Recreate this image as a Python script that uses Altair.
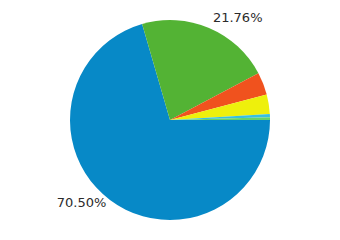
import altair as alt
import pandas as pd
import math

categories = ["A", "B", "C", "D", "E", "F"]
values = [70.50, 21.76, 3.65, 3.15, 0.50, 0.44]
colors = ["#0789c7", "#53b334", "#f0521e", "#eef00c", "#36c0e2", "#64d26a"]
labels = ["70.50%", "21.76%", "", "", "", ""]

df = pd.DataFrame({"cat": categories, "value": values, "label": labels,
                   "order": list(range(len(categories)))})

theta = alt.Theta("value:Q", stack=True,
                  scale=alt.Scale(range=[math.pi / 2, math.pi / 2 + 2 * math.pi]))
order = alt.Order("order:Q")

base = alt.Chart(df)

arcs = base.mark_arc(outerRadius=100).encode(
    theta=theta,
    order=order,
    color=alt.Color("cat:N", scale=alt.Scale(domain=categories, range=colors), legend=None),
)

txt_right = base.mark_text(align="left", baseline="middle", font="DejaVu Sans",
                           fontSize=13, color="#2b2b2b", radius=110, dy=-1).encode(
    theta=theta, order=order,
    text=alt.condition("datum.cat == 'B'", alt.Text("label:N"), alt.value("")),
)
txt_left = base.mark_text(align="right", baseline="middle", font="DejaVu Sans",
                          fontSize=13, color="#2b2b2b", radius=106, dy=-2).encode(
    theta=theta, order=order,
    text=alt.condition("datum.cat == 'A'", alt.Text("label:N"), alt.value("")),
)

chart = alt.layer(arcs, txt_right, txt_left).properties(
    width=340, height=240, padding=0, autosize=alt.AutoSizeParams(type="none")
).configure_view(stroke=None)

chart.save("out.html", embed_options={"renderer": "svg", "actions": False})
